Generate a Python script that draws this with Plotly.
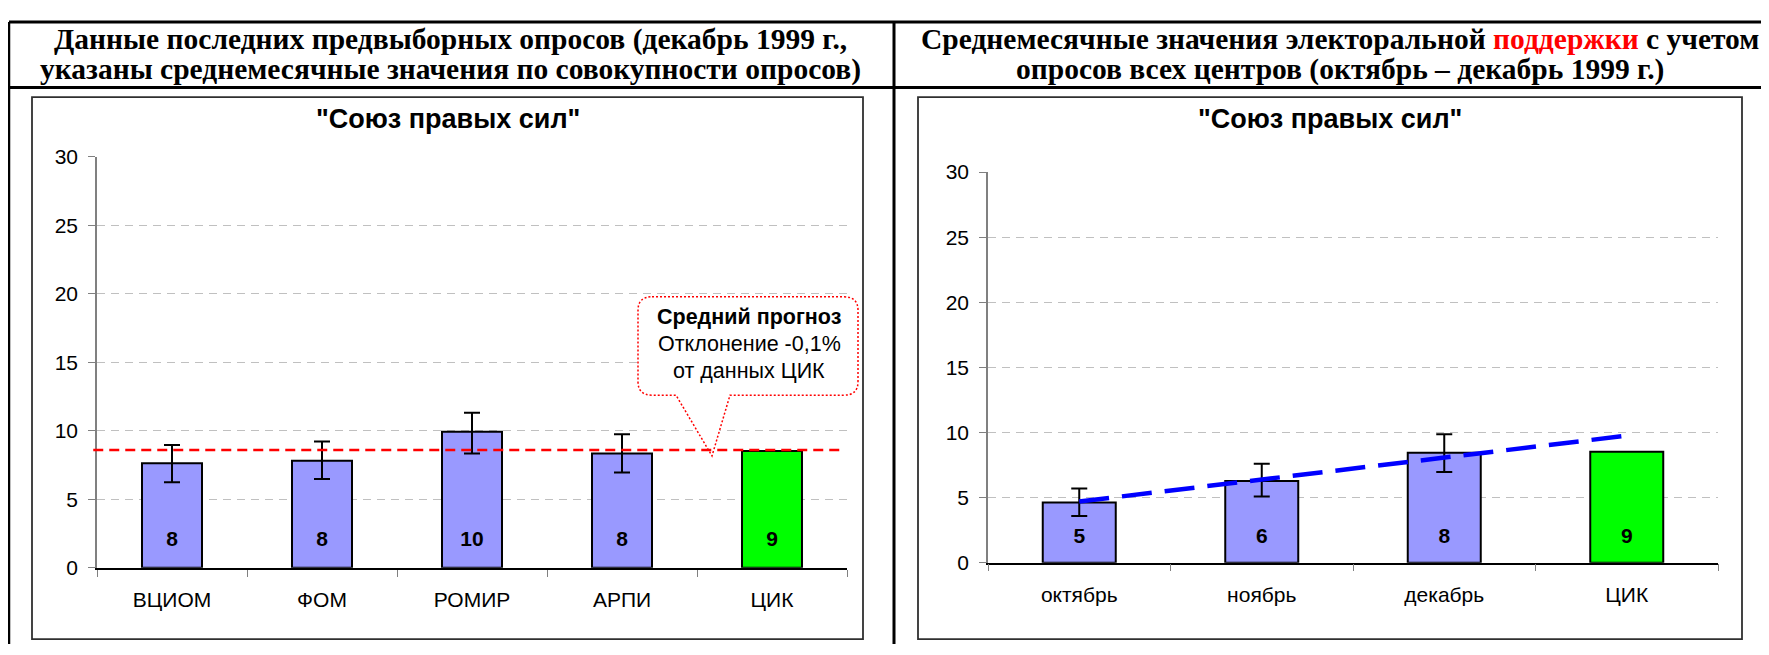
import plotly.graph_objects as go

# page size and the browser's default body margin that offsets the figure
PAGE_W, PAGE_H = 1769, 655
OFF = 8
W, H = PAGE_W - OFF, PAGE_H - OFF

# ---------------- data ----------------
left_cats = ["ВЦИОМ", "ФОМ", "РОМИР", "АРПИ"]
left_vals = [7.64, 7.82, 9.93, 8.35]
left_err_hi = [8.96, 9.22, 11.33, 9.76]
left_err_lo = [6.24, 6.49, 8.35, 6.95]
cik_cat = "ЦИК"
cik_val = 8.52
left_avg = 8.6

right_cats = ["октябрь", "ноябрь", "декабрь"]
right_vals = [4.63, 6.27, 8.45]
right_err_hi = [5.69, 7.59, 9.86]
right_err_lo = [3.59, 5.08, 6.97]
right_trend_cats = ["октябрь", "ноябрь", "декабрь", "ЦИК"]
right_trend = [4.7, 6.39, 8.07, 9.76]

y_ticks = [0, 5, 10, 15, 20, 25, 30]
label_y = 1.95

header_left = ["Данные последних предвыборных опросов (декабрь 1999 г.,",
               "указаны среднемесячные значения по совокупности опросов)"]
header_right = ["Среднемесячные значения электоральной <span style='color:#FF0000'>поддержки</span> с учетом",
                "опросов всех центров (октябрь – декабрь 1999 г.)"]
chart_title = "\"Союз правых сил\""
callout_lines = ["<b>Средний прогноз</b>", "Отклонение -0,1%", "от данных ЦИК"]

# ---------------- helpers (page pixel -> paper) ----------------
def PX(x):
    return (x - OFF) / W

def PY(y):
    return 1 - (y - OFF) / H

BLUE = "#9999FF"
GREEN = "#00FF00"
SANS = "Liberation Sans, Arial, sans-serif"
SERIF = "Liberation Serif, Times New Roman, serif"

fig = go.Figure()

def rnd(v):
    return str(int(v + 0.5))

# left chart
fig.add_trace(go.Bar(
    x=left_cats, y=left_vals, width=0.4, xaxis="x", yaxis="y",
    marker=dict(color=BLUE, line=dict(color="black", width=2)),
    error_y=dict(type="data", symmetric=False,
                 array=[h - v for h, v in zip(left_err_hi, left_vals)],
                 arrayminus=[v - l for l, v in zip(left_err_lo, left_vals)],
                 color="black", thickness=2, width=8),
    showlegend=False))
fig.add_trace(go.Bar(
    x=[cik_cat], y=[cik_val], width=0.4, xaxis="x", yaxis="y",
    marker=dict(color=GREEN, line=dict(color="black", width=2)),
    showlegend=False))
fig.add_trace(go.Scatter(
    x=left_cats + [cik_cat], y=[label_y] * (len(left_cats) + 1), mode="text",
    text=[rnd(v) for v in left_vals + [cik_val]], xaxis="x", yaxis="y",
    textfont=dict(family=SANS, size=21, color="black", weight="bold"),
    showlegend=False))

# right chart
fig.add_trace(go.Bar(
    x=right_cats, y=right_vals, width=0.4, xaxis="x2", yaxis="y2",
    marker=dict(color=BLUE, line=dict(color="black", width=2)),
    error_y=dict(type="data", symmetric=False,
                 array=[h - v for h, v in zip(right_err_hi, right_vals)],
                 arrayminus=[v - l for l, v in zip(right_err_lo, right_vals)],
                 color="black", thickness=2, width=8),
    showlegend=False))
fig.add_trace(go.Bar(
    x=[cik_cat], y=[cik_val], width=0.4, xaxis="x2", yaxis="y2",
    marker=dict(color=GREEN, line=dict(color="black", width=2)),
    showlegend=False))
fig.add_trace(go.Scatter(
    x=right_trend_cats, y=right_trend, mode="lines", xaxis="x2", yaxis="y2",
    line=dict(color="#0000FF", width=4.5, dash="30px,13px"),
    showlegend=False))
fig.add_trace(go.Scatter(
    x=right_cats + [cik_cat], y=[label_y] * (len(right_cats) + 1), mode="text",
    text=[rnd(v) for v in right_vals + [cik_val]], xaxis="x2", yaxis="y2",
    textfont=dict(family=SANS, size=21, color="black", weight="bold"),
    showlegend=False))

yaxis_common = dict(range=[0, 30], tickvals=y_ticks, showline=True, linecolor="#808080",
                    linewidth=1.5, ticks="outside", ticklen=7, tickcolor="#808080",
                    showgrid=True, gridcolor="#C0C0C0", gridwidth=1, griddash="8px,6px",
                    zeroline=False, tickfont=dict(family=SANS, size=21, color="black"),
                    fixedrange=True)
xaxis_common = dict(type="category", showline=True, linecolor="black", linewidth=1.5,
                    ticks="outside", tickson="boundaries", ticklen=7, tickcolor="#808080",
                    showgrid=False, zeroline=False,
                    tickfont=dict(family=SANS, size=21, color="black"), fixedrange=True)

fig.update_layout(
    width=W, height=H, autosize=False,
    margin=dict(l=0, r=0, t=0, b=0),
    paper_bgcolor="white", plot_bgcolor="rgba(0,0,0,0)",
    barmode="overlay", showlegend=False,
    xaxis=dict(domain=[PX(97), PX(847)], anchor="y",
               categoryorder="array", categoryarray=left_cats + [cik_cat],
               range=[-0.5, 4.5], ticklabelstandoff=12, **xaxis_common),
    yaxis=dict(domain=[PY(576), PY(150)], anchor="x", ticklabelstandoff=6, **yaxis_common),
    xaxis2=dict(domain=[PX(988), PX(1718)], anchor="y2",
                categoryorder="array", categoryarray=right_cats + [cik_cat],
                range=[-0.5, 3.5], ticklabelstandoff=12, **xaxis_common),
    yaxis2=dict(domain=[PY(570.7), PY(165.7)], anchor="x2", ticklabelstandoff=6, **yaxis_common),
)

shapes = []
# outer frame / header lines
shapes.append(dict(type="line", xref="paper", yref="paper", x0=PX(9), x1=PX(PAGE_W), y0=PY(10), y1=PY(10),
                   line=dict(color="black", width=3)))
shapes.append(dict(type="line", xref="paper", yref="paper", x0=PX(9), x1=PX(9), y0=PY(10), y1=PY(PAGE_H),
                   line=dict(color="black", width=2.5)))
shapes.append(dict(type="line", xref="paper", yref="paper", x0=PX(9), x1=PX(PAGE_W), y0=PY(78), y1=PY(78),
                   line=dict(color="black", width=3)))
shapes.append(dict(type="line", xref="paper", yref="paper", x0=PX(894), x1=PX(894), y0=PY(10), y1=PY(PAGE_H),
                   line=dict(color="black", width=3)))
# inner chart boxes
for x0, x1 in [(32, 863), (918, 1742)]:
    shapes.append(dict(type="rect", xref="paper", yref="paper", x0=PX(x0), x1=PX(x1), y0=PY(650), y1=PY(88),
                       line=dict(color="#303030", width=1.8), layer="below"))

# callout bubble
bx0, bx1, by0, by1, r = 638, 858, 295, 397, 14
pts = [("M", bx0 + r, by0), ("L", bx1 - r, by0), ("Q", bx1, by0, bx1, by0 + r), ("L", bx1, by1 - r),
       ("Q", bx1, by1, bx1 - r, by1), ("L", 730, by1), ("L", 712, 460), ("L", 676, by1),
       ("L", bx0 + r, by1), ("Q", bx0, by1, bx0, by1 - r), ("L", bx0, by0 + r),
       ("Q", bx0, by0, bx0 + r, by0)]
path = ""
for p in pts:
    cmd = p[0]
    coords = p[1:]
    s = " ".join(f"{PX(coords[i]):.5f},{PY(coords[i+1]):.5f}" for i in range(0, len(coords), 2))
    path += f"{cmd} {s} "
path += "Z"
shapes.append(dict(type="path", xref="paper", yref="paper", path=path, fillcolor="white",
                   line=dict(color="#FF0000", width=1.5, dash="2px,2px"), layer="above"))
# average forecast line
shapes.append(dict(type="line", xref="x domain", yref="y", x0=-0.005, x1=0.99, y0=left_avg, y1=left_avg,
                   line=dict(color="#FF0000", width=2.5, dash="10px,6px"), layer="above"))
fig.update_layout(shapes=shapes)

ann = []
for txt, yc in zip(header_left, [28, 59]):
    ann.append(dict(x=PX(451), y=PY(yc), xref="paper", yref="paper", text=f"<b>{txt}</b>",
                    showarrow=False, xanchor="center", yanchor="middle",
                    font=dict(family=SERIF, size=29.5, color="black")))
for txt, yc in zip(header_right, [28, 59]):
    ann.append(dict(x=PX(1340), y=PY(yc), xref="paper", yref="paper", text=f"<b>{txt}</b>",
                    showarrow=False, xanchor="center", yanchor="middle",
                    font=dict(family=SERIF, size=29.5, color="black")))
for xc in [448, 1330]:
    ann.append(dict(x=PX(xc), y=PY(111), xref="paper", yref="paper", text=f"<b>{chart_title}</b>",
                    showarrow=False, xanchor="center", yanchor="middle",
                    font=dict(family=SANS, size=27, color="black")))
for txt, yc in zip(callout_lines, [316, 344, 372]):
    ann.append(dict(x=PX(749), y=PY(yc), xref="paper", yref="paper", text=txt,
                    showarrow=False, xanchor="center", yanchor="middle",
                    font=dict(family=SANS, size=21.5, color="black")))
fig.update_layout(annotations=ann)

fig.write_html("out.html")
